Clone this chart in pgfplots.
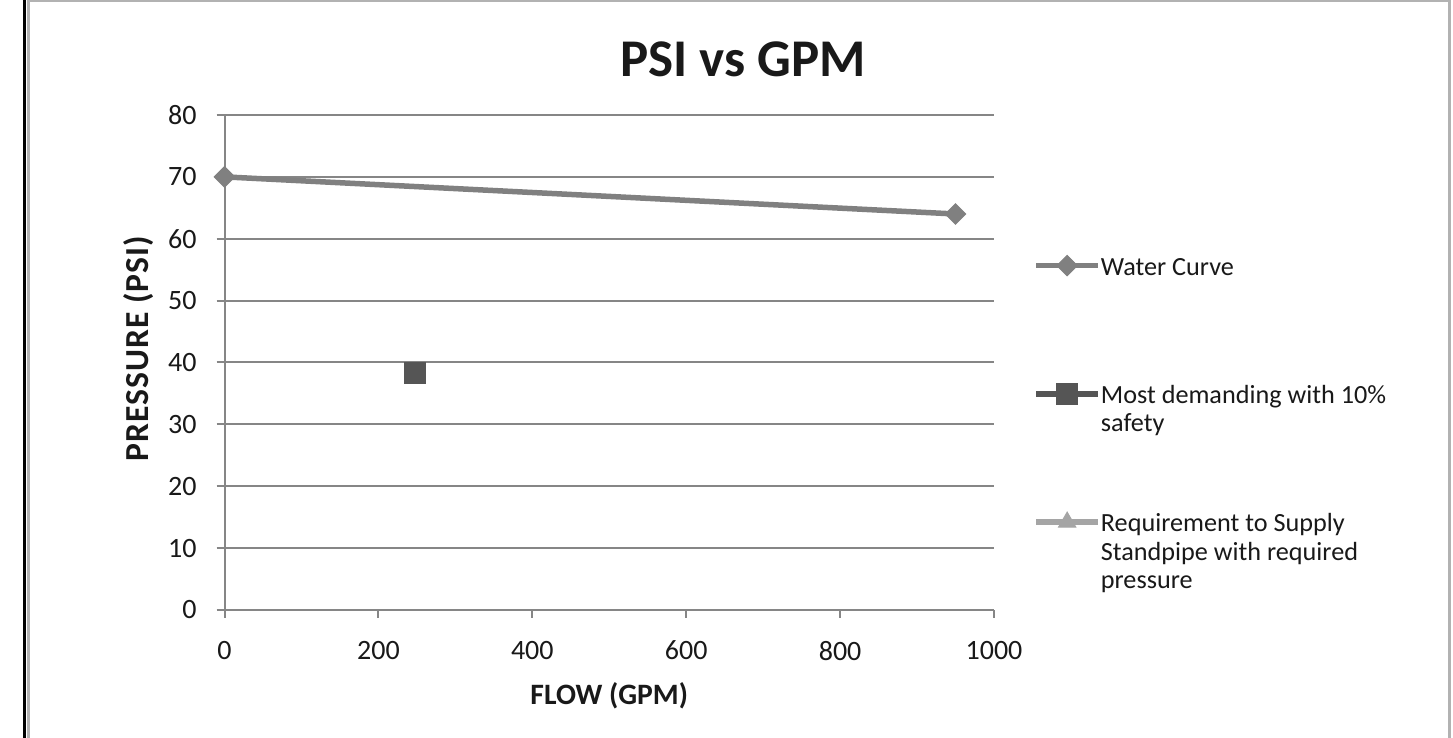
\documentclass[border=0pt]{standalone}
\usepackage{fontspec}
\setmainfont{Carlito}
\usepackage{pgfplots}
\pgfplotsset{compat=1.18}
\definecolor{gridgray}{RGB}{134,134,134}
\definecolor{curvegray}{RGB}{128,128,128}
\definecolor{sqgray}{RGB}{85,85,85}
\definecolor{trigray}{RGB}{165,165,165}
\definecolor{txt}{RGB}{25,25,25}
\newcommand{\legfont}{\fontsize{13.1bp}{14.2bp}\selectfont}
\begin{document}
\begin{tikzpicture}
\useasboundingbox (0,0) rectangle (726.5bp,369bp);
\fill[white] (0,0) rectangle (726.5bp,369bp);
\draw[black, line width=1.5bp] (12.25bp,-1bp) -- (12.25bp,370bp);
\draw[gray!60, line width=1.2bp] (14.3bp,-2bp) -- (14.3bp,368.6bp) -- (724.8bp,368.6bp) -- (724.8bp,-2bp);
\node[font=\bfseries\fontsize{26.5bp}{30bp}\selectfont, inner sep=0pt, text=txt] at (371.5bp,339.5bp) {PSI vs GPM};
\begin{axis}[
  at={(112.25bp,64bp)}, anchor=south west,
  scale only axis, width=384.75bp, height=247.5bp,
  xmin=0, xmax=1000, ymin=0, ymax=80,
  xtick={0,200,...,1000}, ytick={0,10,...,80},
  axis lines*=left,
  axis line style={gridgray, line width=1bp},
  ymajorgrids, grid style={gridgray, line width=1bp},
  tick align=outside, major tick length=4bp,
  tick style={gridgray, line width=1bp},
  /pgf/number format/assume math mode=true,
  /pgf/number format/set thousands separator={},
  ticklabel style={font=\fontsize{14bp}{16bp}\selectfont, text=txt},
  xticklabel style={yshift=-8bp},
  yticklabel style={xshift=-6.5bp},
  xlabel={FLOW (GPM)}, ylabel={PRESSURE (PSI)},
  every axis x label/.style={at={(axis description cs:0.5,-0.1737)}, anchor=center, font=\bfseries\fontsize{14.8bp}{16bp}\selectfont, text=txt},
  every axis y label/.style={at={(axis description cs:-0.1111,0.528)}, rotate=90, anchor=center, font=\bfseries\fontsize{16.8bp}{18bp}\selectfont\addfontfeature{LetterSpace=3}, text=txt},
  legend style={at={(1.0507,0.7184)}, anchor=north west, draw=none, fill=none, inner sep=0pt,
    row sep=35.75bp, column sep=0bp, cells={anchor=north west},
    nodes={inner sep=0pt, text depth=, font=\legfont, align=left, text=txt}},
  legend image code/.code={\draw[mark repeat=2,mark phase=2,#1,yshift=-5.4bp] plot coordinates {(0bp,0bp) (15.5bp,0bp) (31bp,0bp)};},
]
\addplot[curvegray, line width=2.75bp, mark=square*, mark size=3.6bp,
  mark options={rotate=45, fill=curvegray, draw=curvegray, line width=0.5bp}]
  coordinates {(0,70) (950,64)};
\addlegendentry{\rule[-18.2bp]{0pt}{28.2bp}Water Curve}
\addplot[sqgray, line width=2.75bp, mark=square*, mark size=5.25bp,
  mark options={fill=sqgray, draw=sqgray, line width=0.5bp}]
  coordinates {(247.5,38.3)};
\addlegendentry{\rule{0pt}{10bp}Most demanding with 10\%\\safety\rule[-4bp]{0pt}{4bp}}
\addlegendimage{trigray, line width=2.75bp, mark=triangle*, mark size=5bp,
  mark options={fill=trigray, draw=trigray, line width=0.5bp}}
\addlegendentry{\rule{0pt}{10bp}Requirement to Supply\\Standpipe with required\\pressure}
\end{axis}
\end{tikzpicture}
\end{document}
